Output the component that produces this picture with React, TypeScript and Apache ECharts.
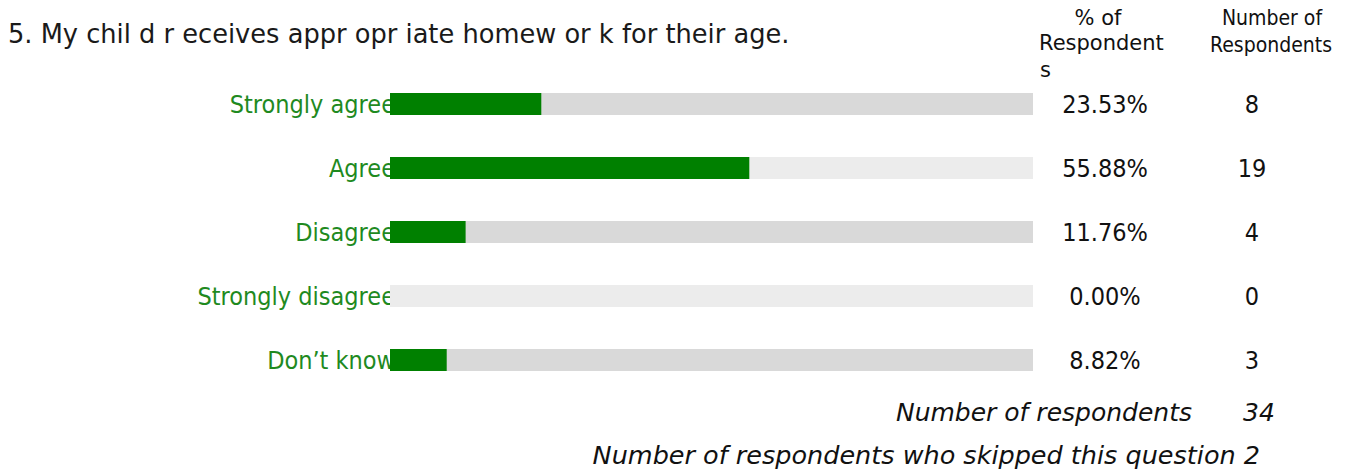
import React, { useEffect, useRef } from "react";
import * as echarts from "echarts";

const categories = ["Strongly agree", "Agree", "Disagree", "Strongly disagree", "Don’t know"];
const percents = [23.53, 55.88, 11.76, 0.0, 8.82];
const counts = [8, 19, 4, 0, 3];
const trackMax = [100, 100, 100, 100, 100];
const totalRespondents = 34;
const skippedRespondents = 2;
const titleText = "5. My chil d r eceives appr opr iate homew or k for their age.";

const FONT = "'DejaVu Sans', Verdana, sans-serif";
const FONT_C = "'DejaVu Sans Condensed', 'DejaVu Sans', Verdana, sans-serif";
const GREEN = "#008000";
const TRACK_COLORS = ["#d9d9d9", "#ececec"];

export default function App() {
  const ref = useRef<HTMLDivElement>(null);
  useEffect(() => {
    if (!ref.current) return;
    const chart = echarts.init(ref.current, undefined, { renderer: "svg" });
    const axisCommon = {
      type: "category" as const,
      inverse: true,
      data: categories,
      axisLine: { show: false },
      axisTick: { show: false },
      splitLine: { show: false },
    };
    const hdr = (text: string, x: number, y: number, align: string, family = FONT_C) => ({
      type: "text",
      x,
      y,
      style: { text, font: `21px ${family}`, fill: "#111", textAlign: align, textVerticalAlign: "middle" },
    });
    chart.setOption({
      animation: false,
      backgroundColor: "#ffffff",
      title: {
        text: titleText,
        left: 8,
        top: 21,
        padding: 0,
        textStyle: { fontFamily: FONT, fontSize: 25.7, fontWeight: "normal", color: "#1a1a1a" },
      },
      grid: { left: 390, right: 318, top: 72, bottom: 80, containLabel: false },
      xAxis: { type: "value", min: 0, max: 100, show: false },
      yAxis: [
        {
          ...axisCommon,
          axisLabel: { color: "#1f8a1f", fontFamily: FONT_C, fontSize: 25, margin: -5 },
        },
        {
          ...axisCommon,
          position: "right",
          axisLabel: {
            color: "#111111",
            fontFamily: FONT_C,
            fontSize: 25,
            margin: 72,
            align: "center",
            formatter: (_v: string, i: number) => percents[i].toFixed(2) + "%",
          },
        },
        {
          ...axisCommon,
          position: "right",
          axisLabel: {
            color: "#111111",
            fontFamily: FONT_C,
            fontSize: 25,
            margin: 219,
            align: "center",
            formatter: (_v: string, i: number) => String(counts[i]),
          },
        },
      ],
      series: [
        {
          type: "bar",
          yAxisIndex: 0,
          data: trackMax,
          barWidth: 22,
          barGap: "-100%",
          silent: true,
          itemStyle: { color: (p: any) => TRACK_COLORS[p.dataIndex % 2] },
        },
        {
          type: "bar",
          yAxisIndex: 0,
          data: percents,
          barWidth: 22,
          barGap: "-100%",
          itemStyle: { color: GREEN },
        },
      ],
      graphic: [
        hdr("% of", 1098, 18, "center", FONT),
        hdr("Respondent", 1039, 43, "left", FONT),
        hdr("s", 1040, 70, "left", FONT),
        hdr("Number of", 1272, 18, "center"),
        hdr("Respondents", 1271, 45, "center"),
        { type: "text", x: 1192, y: 412, style: { text: "Number of respondents", font: `italic 25px ${FONT}`, fill: "#111", textAlign: "right", textVerticalAlign: "middle" } },
        { type: "text", x: 1259, y: 412, style: { text: String(totalRespondents), font: `italic 25px ${FONT}`, fill: "#111", textAlign: "center", textVerticalAlign: "middle" } },
        { type: "text", x: 1260, y: 455, style: { text: "Number of respondents who skipped this question " + skippedRespondents, font: `italic 25.5px ${FONT}`, fill: "#111", textAlign: "right", textVerticalAlign: "middle" } },
      ],
    });
    return () => chart.dispose();
  }, []);
  return (
    <div
      ref={ref}
      style={{ position: "fixed", left: 0, top: 0, width: 1351, height: 472, background: "#fff" }}
    />
  );
}
